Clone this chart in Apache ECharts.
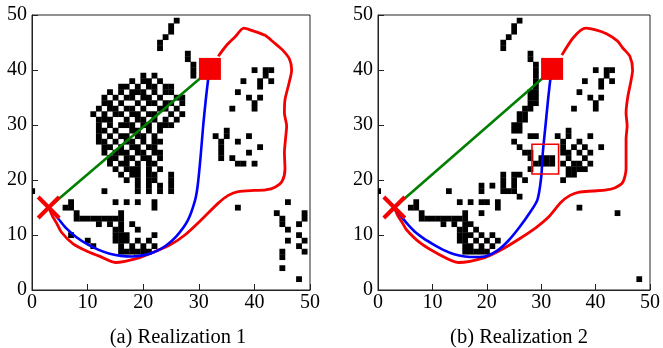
<!DOCTYPE html>
<html>
<head>
<meta charset="utf-8">
<script src="https://cdn.jsdelivr.net/npm/echarts@6/dist/echarts.min.js"></script>
<style>
html,body{margin:0;padding:0;background:#fff;}
#c{width:663px;height:348px;}
</style>
</head>
<body>
<div id="c"></div>
<script>
// ---------- data ----------
const captions = ['(a) Realization 1', '(b) Realization 2'];
const axisTicks = [0, 10, 20, 30, 40, 50];

// occupied cells [x, y] (cell centred on integer coordinates)
const sharedTop = [[26,49],[25,48],[25,47],[24,46],[23,45],[23,44],[28,43],[28,42]];
const sharedUpperRight = [[40,40],[42,40],[43,40],[42,39],[38,38],[41,38],[43,38],[41,37],[37,36],[39,35],[41,35],[40,34],[40,33],[36,33]];

const p1Cluster = [
  [20,39],[22,39],
  [18,38],[20,38],[21,38],[23,38],
  [16,37],[17,37],[19,37],[21,37],[22,37],[24,37],[25,37],
  [14,36],[16,36],[18,36],[19,36],[20,36],[22,36],[24,36],[25,36],
  [13,35],[15,35],[17,35],[18,35],[20,35],[21,35],[23,35],[26,35],[27,35],
  [13,34],[14,34],[16,34],[19,34],[21,34],[22,34],[24,34],[25,34],[27,34],
  [12,33],[14,33],[15,33],[17,33],[18,33],[20,33],[23,33],[24,33],[26,33],
  [11,32],[13,32],[15,32],[16,32],[18,32],[19,32],[21,32],[22,32],[25,32],[27,32],
  [12,31],[13,31],[14,31],[17,31],[19,31],[20,31],[22,31],[24,31],[26,31],
  [12,30],[14,30],[16,30],[17,30],[18,30],[20,30],[21,30],[23,30],[24,30],[25,30],
  [12,29],[13,29],[15,29],[18,29],[19,29],[21,29],[23,29],
  [12,28],[14,28],[16,28],[17,28],[19,28],[20,28],[22,28],
  [12,27],[13,27],[15,27],[17,27],[18,27],[20,27],[22,27],[23,27],
  [13,26],[14,26],[16,26],[18,26],[19,26],[21,26],[22,26],
  [13,25],[15,25],[16,25],[17,25],[19,25],[20,25],[22,25],[23,25],
  [14,24],[15,24],[17,24],[18,24],[20,24],[21,24],[23,24],
  [14,23],[16,23],[17,23],[19,23],[21,23],[22,23],
  [15,22],[17,22],[18,22],[19,22],[21,22],[23,22],
  [16,21],[18,21],[19,21],[21,21],[22,21],[25,21],
  [17,20],[19,20],[21,20],[22,20],[25,20],
  [19,19],[21,19],[23,19],[25,19],
  [19,18],[21,18],[23,18],[25,18]
];
const p1Other = [
  [29,41],[29,40],[29,39],
  [33,28],[35,29],[35,28],[34,27],[34,26],[34,25],[34,24],[36,24],[37,23],[38,23],[40,23],[37,27],[39,28],[39,25],[41,26],
  [37,15],
  [46,16],[44,14],[45,13],[45,12],[46,11],[46,9],[49,14],[49,13],[48,12],[48,10],[49,9],[48,8],[49,7],[45,7],[45,6],[45,4],[48,2],
  [0,18],[13,18],[15,16],[17,16],[19,16],[22,16],[22,15],
  [7,16],[6,15],[7,15],[8,14],[8,13],[9,13],[10,13],[11,13],[12,13],[13,13],[14,13],[15,13],[12,12],[14,12],
  [16,14],[16,13],[16,12],[16,11],[16,10],[16,9],[16,8],[15,11],[15,10],[15,9],
  [18,12],[19,11],[17,10],[22,10],[17,9],[19,9],[21,9],[18,8],[20,8],[22,8],
  [16,7],[17,7],[18,7],[19,7],[20,7],[21,7],
  [7,10],[10,9],[11,8]
];
const p2Other = [
  [29,41],[29,40],[29,39],[29,38],[29,37],[29,36],[28,36],[28,35],[29,35],[28,34],[29,34],
  [27,33],[28,33],[26,32],[27,32],[26,31],[27,31],[25,30],[26,30],[25,29],[26,29],
  [28,28],[29,28],[25,27],[26,26],[27,25],[28,25],[28,24],
  [29,23],[30,24],[31,24],[32,24],[30,23],[31,23],[32,23],[28,22],
  [33,28],[35,29],[35,28],[39,28],[34,27],[37,27],[34,26],[36,26],[38,26],[41,26],
  [34,25],[35,25],[37,25],[39,25],[35,24],[38,24],[34,23],[36,23],[37,23],[39,23],
  [35,22],[36,22],[37,22],[38,22],[35,21],[36,21],[34,20],
  [37,15],[44,14],[48,2],
  [0,18],[13,18],[15,16],[17,16],[19,19],[19,18],[19,16],[20,16],[21,19],[19,14],[22,16],[22,15],
  [23,21],[23,20],[23,19],[23,18],[25,21],[25,20],[25,19],[25,18],[26,21],[27,20],[24,18],[26,17],
  [7,16],[6,15],[7,15],[8,14],[8,13],[9,13],[10,13],[11,13],[12,13],[13,13],[14,13],[15,13],[12,12],[14,12],
  [16,14],[16,13],[16,12],[16,11],[16,10],[16,9],[16,8],[15,11],[15,10],[15,9],
  [17,12],[18,11],[17,10],[19,10],[18,9],[20,9],[21,10],[22,9],[17,8],[19,8],[21,8],
  [16,7],[17,7],[18,7],[19,7],[20,7]
];
const p1Cells = sharedTop.concat(sharedUpperRight, p1Cluster, p1Other);
const p2Cells = sharedTop.concat(sharedUpperRight, p2Other);

// paths
const startPoint = [[3,15]];
const goalPoint = [[32,40.2]];
const p1Green = [[3,15],[32,40]];
const p2Green = [[3,15],[32,40]];
const p1Blue = [[3,15],[4.7,13],[6,11.4],[8,9.6],[10,8.3],[12,7.3],[14,6.6],[16,6.2],[18,6.1],[20,6.3],[22,6.9],[24,8],[26,9.8],[28,12.6],[29.3,16.2],[29.8,19],[30.3,24],[30.8,30],[31.3,35],[31.7,38.5]];
const p2Blue = [[3,15],[4.4,13.2],[5.6,11.8],[7,10.4],[8.5,9.3],[10,8.4],[12,7.3],[14,6.5],[16,6.1],[18,6],[20,6.2],[22,7.2],[24,9],[26,11.4],[27.8,13.9],[29.3,16.4],[30,20.5],[30.3,25],[30.8,30],[31.3,35],[31.7,38.5]];
const p1Red = [[3,15],[3.7,13.4],[4.4,12.2],[5.3,10.5],[7.4,8.4],[10,7],[12,6.2],[15,5],[19.4,5.9],[22.4,7.1],[25,8.3],[27.5,10],[30.5,12.8],[33.5,15.8],[35.3,17.2],[37.1,17.9],[40,18.1],[42,18.2],[43.7,18.7],[45,19.8],[45.5,22],[45.4,25],[45.6,27.5],[45.8,29.8],[45.4,32.2],[45.5,34.6],[46.2,37.5],[46.7,40],[46.3,42],[45,43.7],[43.5,45],[41.9,46.3],[39.5,47.2],[38.1,47.6],[36.5,46],[35,44.5],[33.5,42.5]];
const p2Red = [[3,15],[3.7,13.4],[4.5,12.2],[5.2,11],[7.7,8.6],[11,6.6],[14.8,5],[19.6,5.9],[23,7.5],[26.3,9.5],[29,11.3],[31.4,13.3],[33.6,15.9],[35.3,17.2],[37,17.8],[39.5,18],[42,18.2],[43.6,18.6],[45,19.6],[45.6,22],[45.6,25],[45.6,27.5],[45.8,29.8],[45.6,32.2],[45.9,35],[46.5,38],[46.8,40],[46.3,42.5],[45,44],[44,45.3],[42,46.6],[40,47.3],[38.2,47.6],[36,46],[33.8,42.7]];
const p2Box = [[28.3,21.1,33.2,26.5]];

// ---------- chart ----------
const RED = '#f40000', BLUE = '#0000ff', GREEN = '#007f00';
const FONT = '"Liberation Serif", "DejaVu Serif", serif';

function cellSeries(idx, data) {
  return {
    type: 'custom', xAxisIndex: idx, yAxisIndex: idx, data: data, clip: true, z: 1,
    renderItem: function (params, api) {
      const p = api.coord([api.value(0) - 0.5, api.value(1) + 0.5]);
      const s = api.size([1, 1]);
      return { type: 'rect', shape: { x: p[0], y: p[1], width: s[0] + 0.3, height: s[1] + 0.3 }, style: { fill: '#000' } };
    }
  };
}
function lineSeries(idx, data, color, z, w) {
  return { type: 'line', xAxisIndex: idx, yAxisIndex: idx, data: data, showSymbol: false, smooth: 0.25,
    lineStyle: { color: color, width: w }, z: z, animation: false };
}
function crossSeries(idx) {
  return {
    type: 'custom', xAxisIndex: idx, yAxisIndex: idx, data: startPoint, z: 10,
    renderItem: function (params, api) {
      const c = api.coord([api.value(0), api.value(1)]);
      const h = 10.5;
      const st = { stroke: RED, lineWidth: 4 };
      return { type: 'group', children: [
        { type: 'line', shape: { x1: c[0] - h, y1: c[1] - h, x2: c[0] + h, y2: c[1] + h }, style: st },
        { type: 'line', shape: { x1: c[0] - h, y1: c[1] + h, x2: c[0] + h, y2: c[1] - h }, style: st }
      ] };
    }
  };
}
function goalSeries(idx) {
  return { type: 'scatter', xAxisIndex: idx, yAxisIndex: idx, data: goalPoint, symbol: 'rect', symbolSize: 22,
    itemStyle: { color: RED, opacity: 1 }, z: 11 };
}
function boxSeries(idx) {
  return {
    type: 'custom', xAxisIndex: idx, yAxisIndex: idx, data: p2Box, z: 9,
    renderItem: function (params, api) {
      const a = api.coord([api.value(0), api.value(3)]);
      const b = api.coord([api.value(2), api.value(1)]);
      return { type: 'rect', shape: { x: a[0], y: a[1], width: b[0] - a[0], height: b[1] - a[1] },
        style: { fill: 'none', stroke: RED, lineWidth: 1.6 } };
    }
  };
}
function xAx(idx) {
  return { type: 'value', gridIndex: idx, min: axisTicks[0], max: axisTicks[axisTicks.length - 1], interval: 10,
    axisLine: { lineStyle: { color: '#222', width: 1 } },
    axisTick: { inside: true, length: 6, lineStyle: { color: '#222' } },
    axisLabel: { color: '#000', fontFamily: FONT, fontSize: 20, margin: 3 },
    splitLine: { show: false } };
}
function yAx(idx) {
  return { type: 'value', gridIndex: idx, min: axisTicks[0], max: axisTicks[axisTicks.length - 1], interval: 10,
    axisLine: { lineStyle: { color: '#222', width: 1 } },
    axisTick: { inside: true, length: 6, lineStyle: { color: '#222' } },
    axisLabel: { color: '#000', fontFamily: FONT, fontSize: 20, margin: 5 },
    splitLine: { show: false } };
}

const chart = echarts.init(document.getElementById('c'), null, { renderer: 'canvas' });
chart.setOption({
  animation: false,
  backgroundColor: '#fff',
  title: [
    { text: captions[0], left: 173, top: 322, textAlign: 'center',
      textStyle: { fontFamily: FONT, fontSize: 20.5, fontWeight: 'normal', color: '#000' } },
    { text: captions[1], left: 514, top: 322, textAlign: 'center',
      textStyle: { fontFamily: FONT, fontSize: 20.5, fontWeight: 'normal', color: '#000' } }
  ],
  grid: [
    { left: 32, top: 15, width: 278, height: 275, show: true, borderColor: '#222', borderWidth: 1, backgroundColor: '#fff' },
    { left: 378, top: 15, width: 275, height: 275, show: true, borderColor: '#222', borderWidth: 1, backgroundColor: '#fff' }
  ],
  xAxis: [xAx(0), xAx(1)],
  yAxis: [yAx(0), yAx(1)],
  series: [
    cellSeries(0, p1Cells),
    lineSeries(0, p1Red, RED, 3, 2.8),
    lineSeries(0, p1Green, GREEN, 4, 2.6),
    lineSeries(0, p1Blue, BLUE, 5, 2.6),
    crossSeries(0),
    goalSeries(0),
    cellSeries(1, p2Cells),
    lineSeries(1, p2Red, RED, 3, 2.8),
    lineSeries(1, p2Green, GREEN, 4, 2.6),
    lineSeries(1, p2Blue, BLUE, 5, 2.6),
    boxSeries(1),
    crossSeries(1),
    goalSeries(1)
  ]
});
</script>
</body>
</html>
